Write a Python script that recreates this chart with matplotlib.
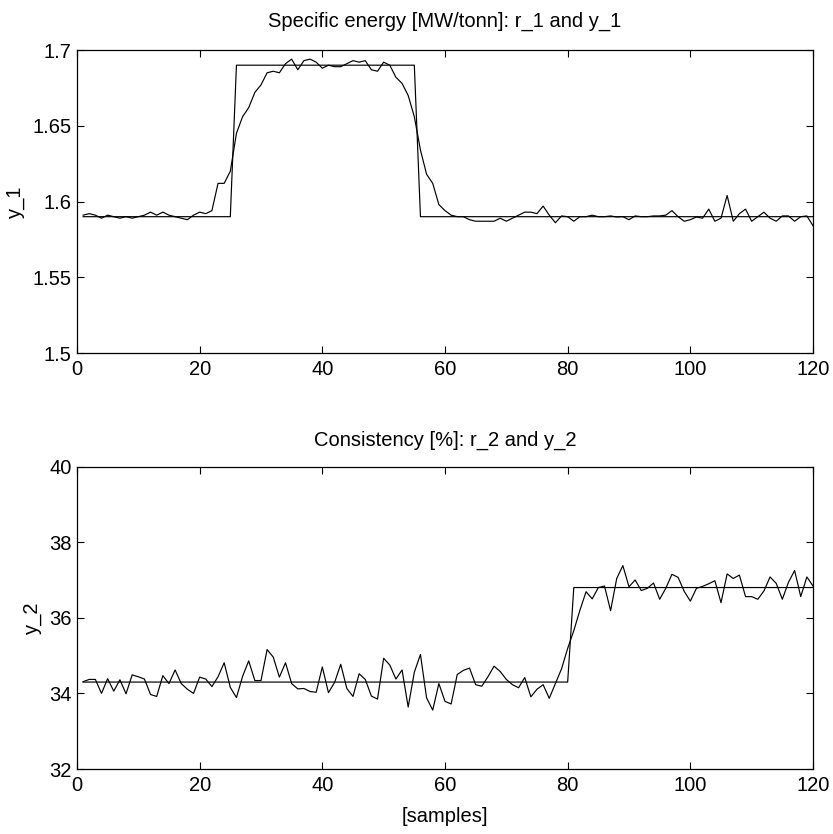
import matplotlib
matplotlib.use("Agg")
import matplotlib.pyplot as plt
import numpy as np

plt.rcParams['font.family'] = ['Liberation Sans', 'DejaVu Sans']

samples = list(range(1, 121))

r_1 = [1.59] * 25 + [1.69] * 30 + [1.59] * 65

y_1 = [1.591, 1.592, 1.591, 1.589, 1.591, 1.590, 1.589, 1.590, 1.589, 1.590,
       1.591, 1.593, 1.591, 1.593, 1.591, 1.590, 1.589, 1.588, 1.591, 1.593,
       1.592, 1.594, 1.612, 1.612, 1.620, 1.645, 1.656, 1.662, 1.672, 1.677,
       1.685, 1.686, 1.685, 1.691, 1.694, 1.687, 1.693, 1.694, 1.692, 1.688,
       1.690, 1.689, 1.689, 1.691, 1.693, 1.692, 1.693, 1.687, 1.686, 1.692,
       1.690, 1.682, 1.678, 1.670, 1.656, 1.634, 1.618, 1.612, 1.598, 1.594,
       1.591, 1.590, 1.590, 1.588, 1.587, 1.587, 1.587, 1.587, 1.589, 1.587,
       1.589, 1.591, 1.593, 1.593, 1.592, 1.597, 1.591, 1.586, 1.5905, 1.590,
       1.587, 1.590, 1.590, 1.591, 1.590, 1.590, 1.5905, 1.5898, 1.590, 1.588,
       1.5905, 1.590, 1.590, 1.5905, 1.5905, 1.591, 1.594, 1.590, 1.587, 1.588,
       1.5898, 1.589, 1.595, 1.587, 1.589, 1.604, 1.587, 1.592, 1.595, 1.587,
       1.590, 1.593, 1.589, 1.587, 1.5905, 1.5905, 1.587, 1.590, 1.5905, 1.584]

r_2 = [34.3] * 80 + [36.8] * 40

y_2 = [34.31, 34.37, 34.37, 34.00, 34.39, 34.06, 34.36, 33.99, 34.49, 34.44,
       34.38, 33.97, 33.92, 34.47, 34.26, 34.62, 34.26, 34.11, 34.00, 34.43,
       34.38, 34.18, 34.44, 34.81, 34.16, 33.89, 34.45, 34.86, 34.34, 34.34,
       35.16, 34.96, 34.43, 34.81, 34.26, 34.12, 34.13, 34.05, 34.03, 34.70,
       34.02, 34.29, 34.77, 34.13, 33.92, 34.52, 34.37, 33.93, 33.85, 34.93,
       34.75, 34.38, 34.62, 33.64, 34.56, 35.03, 33.88, 33.56, 34.26, 33.79,
       33.72, 34.50, 34.61, 34.67, 34.23, 34.19, 34.44, 34.72, 34.58, 34.37,
       34.23, 34.15, 34.42, 33.91, 34.11, 34.23, 33.87, 34.26, 34.65, 35.19,
       35.66, 36.20, 36.69, 36.50, 36.80, 36.84, 36.19, 37.04, 37.38, 36.82,
       37.00, 36.72, 36.78, 36.92, 36.49, 36.78, 37.15, 37.07, 36.70, 36.44,
       36.78, 36.83, 36.90, 36.98, 36.40, 37.16, 37.04, 37.13, 36.56, 36.56,
       36.49, 36.71, 37.08, 36.91, 36.49, 36.94, 37.25, 36.56, 37.08, 36.84]

xticks = [0, 20, 40, 60, 80, 100, 120]
yticks_1 = [1.5, 1.55, 1.6, 1.65, 1.7]
ytick_labels_1 = ['1.5', '1.55', '1.6', '1.65', '1.7']
yticks_2 = [32, 34, 36, 38, 40]

fig = plt.figure(figsize=(8.33, 8.34), dpi=100)
ax1 = fig.add_axes([0.0924, 0.5767, 0.8836, 0.3633])
ax2 = fig.add_axes([0.0924, 0.0779, 0.8836, 0.3627])

fs = 14.5
for ax in (ax1, ax2):
    ax.tick_params(direction='in', top=True, right=True, length=5, width=0.8,
                   labelsize=fs)
    ax.tick_params(axis='x', pad=5)
    ax.tick_params(axis='y', pad=4)
    for s in ax.spines.values():
        s.set_linewidth(0.9)
    ax.set_xlim(0, 120)
    ax.set_xticks(xticks)

ax1.plot(samples, r_1, color='black', lw=0.85)
ax1.plot(samples, y_1, color='black', lw=0.85)
ax1.set_ylim(1.5, 1.7)
ax1.set_yticks(yticks_1)
ax1.set_yticklabels(ytick_labels_1)
ax1.set_ylabel('y_1', fontsize=fs, labelpad=5)
ax1.set_title('Specific energy [MW/tonn]: r_1 and y_1', fontsize=fs, pad=17)

ax2.plot(samples, r_2, color='black', lw=0.85)
ax2.plot(samples, y_2, color='black', lw=0.85)
ax2.set_ylim(32, 40)
ax2.set_yticks(yticks_2)
ax2.set_ylabel('y_2', fontsize=fs, labelpad=5)
ax2.set_xlabel('[samples]', fontsize=fs, labelpad=9)
ax2.set_title('Consistency [%]: r_2 and y_2', fontsize=fs, pad=15)

fig.savefig('out.png', dpi=100)
